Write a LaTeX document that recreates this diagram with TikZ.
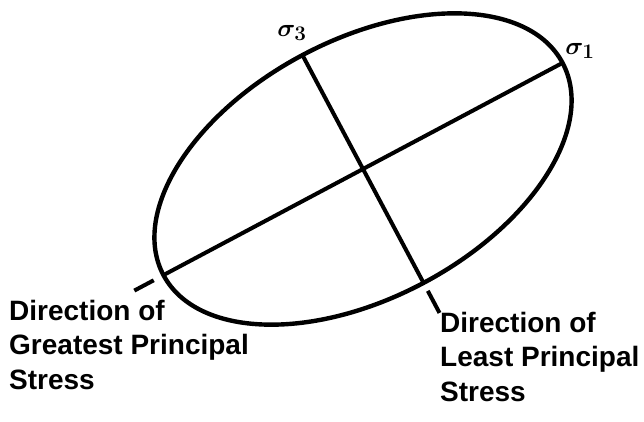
\documentclass[tikz,border=0pt]{standalone}
\usepackage{fontspec}
\setmainfont{Liberation Sans}
\usepackage{tikz}
\usetikzlibrary{shapes.geometric,positioning,calc}

\begin{document}
\begin{tikzpicture}[
  x=1pt, y=1pt,
  ring/.style={ellipse, draw, line width=4.4pt, rotate=28, minimum width=452pt, minimum height=258pt, inner sep=0pt, outer sep=0pt},
  axisline/.style={line width=4pt},
  extline/.style={line width=4pt},
  direction/.style={align=left, inner sep=0pt, font=\fontsize{28}{34.5}\selectfont\bfseries},
  sigma/.style={inner sep=0pt, font=\fontsize{32}{32}\selectfont\boldmath}
]
\useasboundingbox (0,0) rectangle (644,421);

% stress ellipse and its principal axes
\node[ring] (stress) at (363,252) {};
\draw[axisline] (stress.west) -- (stress.east);
\draw[axisline] (stress.north) -- (stress.south);

% short dashes beyond the ellipse
\coordinate (greatA) at ($(stress.west)!-11pt!(stress.east)$);
\coordinate (greatB) at ($(stress.west)!-33pt!(stress.east)$);
\coordinate (leastA) at ($(stress.south)!-9pt!(stress.north)$);
\coordinate (leastB) at ($(stress.south)!-34pt!(stress.north)$);
\draw[extline] (greatA) -- (greatB);
\draw[extline] (leastA) -- (leastB);

% labels
\node[sigma] (sthree) at (292,388) {$\sigma_3$};
\node[sigma] (sone) at (580,370) {$\sigma_1$};
\node[direction, anchor=north west] (greatest) at (9,121) {Direction of\\Greatest Principal\\Stress};
\node[direction, anchor=north west] (least) at (440,109) {Direction of\\Least Principal\\Stress};
\end{tikzpicture}
\end{document}
